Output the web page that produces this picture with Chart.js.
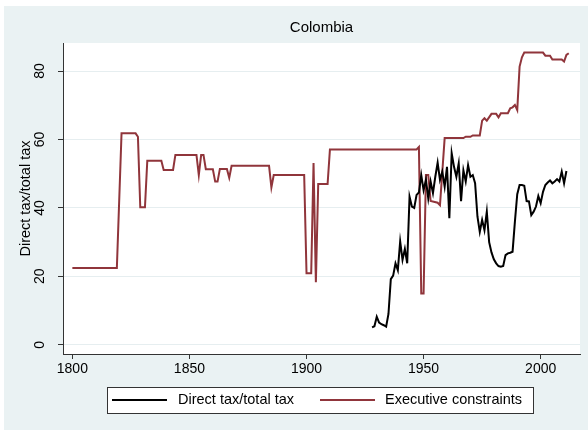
<!DOCTYPE html>
<html>
<head>
<meta charset="utf-8">
<script src="https://cdn.jsdelivr.net/npm/chart.js@4.4.1/dist/chart.umd.min.js"></script>
<style>
  html, body { margin: 0; padding: 0; background: #fff; }
  #wrap { position: absolute; left: 4px; top: 6px; width: 584px; height: 424px; background: #eaf2f3; }
  canvas { display: block; }
</style>
</head>
<body>
<div id="wrap"><canvas id="chart" width="584" height="424"></canvas></div>
<script>
const titleText = "Colombia";
const yTitle = "Direct tax/total tax";
const xTicks = [1800, 1850, 1900, 1950, 2000];
const yTicks = [0, 20, 40, 60, 80];

// Direct tax/total tax
const dtYears = [1928, 1929, 1930, 1931, 1932, 1933, 1934, 1935, 1936, 1937, 1938, 1939, 1940, 1941, 1942, 1943, 1944, 1945, 1946, 1947, 1948, 1949, 1950, 1951, 1952, 1953, 1954, 1955, 1956, 1957, 1958, 1959, 1960, 1961, 1962, 1963, 1964, 1965, 1966, 1967, 1968, 1969, 1970, 1971, 1972, 1973, 1974, 1975, 1976, 1977, 1978, 1979, 1980, 1981, 1982, 1983, 1984, 1985, 1986, 1987, 1988, 1989, 1990, 1991, 1992, 1993, 1994, 1995, 1996, 1997, 1998, 1999, 2000, 2001, 2002, 2003, 2004, 2005, 2006, 2007, 2008, 2009, 2010, 2011];
const dtValues = [5.1, 5.4, 8.2, 6.5, 6.0, 5.7, 5.3, 9.0, 19.2, 20.2, 23.8, 21.8, 30.2, 24.8, 28.0, 23.8, 43.3, 40.4, 40.0, 43.8, 44.5, 49.6, 45.2, 48.2, 42.8, 47.7, 44.3, 49.1, 53.2, 48.2, 50.6, 46.2, 52.0, 37.0, 56.0, 52.0, 49.1, 53.0, 42.0, 51.0, 47.7, 52.5, 49.1, 49.6, 47.2, 37.5, 33.0, 36.5, 33.5, 38.9, 30.0, 27.0, 25.0, 23.8, 23.0, 22.8, 23.0, 26.2, 26.7, 26.9, 27.2, 36.0, 44.0, 46.7, 46.7, 46.5, 42.0, 41.9, 37.9, 38.9, 40.4, 43.5, 41.4, 44.7, 46.7, 47.4, 48.0, 47.2, 47.7, 48.4, 47.7, 50.6, 47.2, 50.8];

// Executive constraints
const ecYears = [1800, 1819, 1821, 1827, 1828, 1829, 1831, 1832, 1838, 1839, 1843, 1844, 1853, 1854, 1855, 1856, 1857, 1860, 1861, 1862, 1863, 1866, 1867, 1868, 1884, 1885, 1886, 1899, 1900, 1902, 1903, 1904, 1905, 1909, 1910, 1947, 1948, 1949, 1950, 1951, 1952, 1953, 1956, 1957, 1959, 1967, 1968, 1970, 1971, 1974, 1975, 1976, 1977, 1979, 1981, 1982, 1983, 1986, 1987, 1988, 1989, 1990, 1991, 1992, 1993, 2001, 2002, 2004, 2005, 2009, 2010, 2011, 2012];
const ecValues = [22.4, 22.4, 61.8, 61.8, 60.8, 40.2, 40.2, 53.8, 53.8, 51.1, 51.1, 55.5, 55.5, 49.6, 55.5, 55.5, 51.3, 51.3, 47.7, 47.7, 51.4, 51.4, 48.8, 52.3, 52.3, 46.0, 49.6, 49.6, 20.9, 20.9, 53.1, 18.3, 47.0, 47.0, 57.1, 57.1, 57.8, 15.0, 15.0, 49.6, 49.6, 42.0, 41.5, 40.8, 60.4, 60.4, 60.8, 60.8, 61.2, 61.2, 65.5, 66.2, 65.5, 67.5, 67.5, 66.5, 67.7, 67.7, 69.1, 69.4, 70.1, 68.6, 81.3, 84.0, 85.4, 85.4, 84.5, 84.5, 83.4, 83.4, 82.8, 84.7, 85.2];

const toPoints = (xs, ys) => xs.map((x, i) => ({ x: x, y: ys[i] }));
const FONT = "'Liberation Sans', Arial, sans-serif";

const decor = {
  id: "decor",
  beforeDraw(chart) {
    const { ctx, chartArea: a } = chart;
    ctx.save();
    ctx.fillStyle = "#ffffff";
    ctx.fillRect(a.left, a.top, a.right - a.left, a.bottom - a.top);
    ctx.restore();
  },
  afterDraw(chart) {
    const { ctx, chartArea: a } = chart;
    const ys = chart.scales.y;
    ctx.save();
    ctx.fillStyle = "#000";
    // title
    ctx.font = "15px " + FONT;
    ctx.textAlign = "center";
    ctx.textBaseline = "middle";
    ctx.fillText(titleText, (a.left + a.right) / 2, 22);
    // y tick labels (rotated)
    ctx.font = "14px " + FONT;
    for (const v of yTicks) {
      ctx.save();
      ctx.translate(36, ys.getPixelForValue(v));
      ctx.rotate(-Math.PI / 2);
      ctx.fillText(String(v), 0, 0);
      ctx.restore();
    }
    // y axis title
    ctx.font = "14.5px " + FONT;
    ctx.save();
    ctx.translate(22, (a.top + a.bottom) / 2);
    ctx.rotate(-Math.PI / 2);
    ctx.fillText(yTitle, 0, 0);
    ctx.restore();
    // legend
    const lx = 103, ly = 381, lw = 426, lh = 26;
    ctx.fillStyle = "#fff";
    ctx.fillRect(lx, ly, lw, lh);
    ctx.strokeStyle = "#333";
    ctx.lineWidth = 1;
    ctx.strokeRect(lx + 0.5, ly + 0.5, lw, lh);
    const items = [[108, 174], [316, 381]];
    chart.data.datasets.forEach((ds, i) => {
      const [sx, tx] = items[i];
      ctx.strokeStyle = ds.borderColor;
      ctx.lineWidth = 2;
      ctx.beginPath();
      ctx.moveTo(sx, ly + lh / 2);
      ctx.lineTo(sx + 55, ly + lh / 2);
      ctx.stroke();
      ctx.fillStyle = "#000";
      ctx.textAlign = "left";
      ctx.fillText(ds.label, tx, ly + lh / 2);
    });
    ctx.restore();
  }
};

new Chart(document.getElementById("chart"), {
  type: "line",
  data: {
    datasets: [
      {
        label: "Direct tax/total tax",
        data: toPoints(dtYears, dtValues),
        borderColor: "#000000",
        borderWidth: 2,
        pointRadius: 0,
        tension: 0,
      },
      {
        label: "Executive constraints",
        data: toPoints(ecYears, ecValues),
        borderColor: "#90353b",
        borderWidth: 2,
        pointRadius: 0,
        tension: 0,
      },
    ],
  },
  options: {
    responsive: false,
    animation: false,
    layout: { padding: { left: 0, top: 37, right: 8, bottom: 56 } },
    plugins: { legend: { display: false }, tooltip: { enabled: false } },
    scales: {
      x: {
        type: "linear",
        min: 1796,
        max: 2016.8,
        afterBuildTicks: (s) => { s.ticks = xTicks.map((v) => ({ value: v })); },
        afterFit: (s) => { s.height = 20; },
        grid: { drawOnChartArea: false, drawTicks: true, tickLength: 5, tickColor: "#333" },
        border: { display: true, color: "#333", width: 1 },
        ticks: { color: "#000", font: { family: FONT, size: 14 }, padding: 2, maxRotation: 0, callback: (v) => String(v) },
      },
      y: {
        min: -2.7,
        max: 88.2,
        afterBuildTicks: (s) => { s.ticks = yTicks.map((v) => ({ value: v })); },
        afterFit: (s) => { s.width = 59; },
        grid: { color: "#e6eef0", lineWidth: 1, drawTicks: true, tickLength: 5, tickColor: "#333" },
        border: { display: true, color: "#333", width: 1 },
        ticks: { display: false },
      },
    },
  },
  plugins: [decor],
});
</script>
</body>
</html>
